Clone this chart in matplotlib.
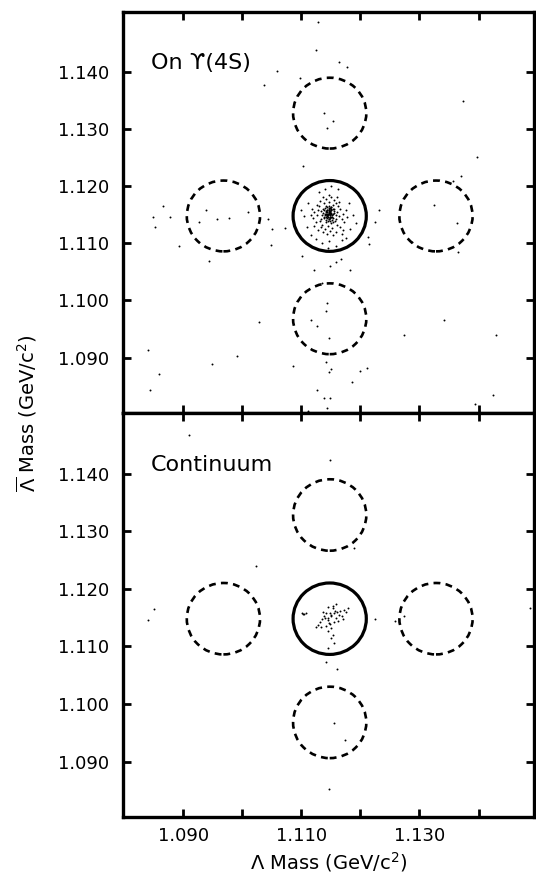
import numpy as np
import matplotlib.pyplot as plt
from matplotlib.patches import Circle

# signal box centre and sideband offsets (GeV/c^2)
m_center = 1.1148
box_radius = 0.0062
sb_offset = 0.018

xticks = [1.090, 1.100, 1.110, 1.120, 1.130, 1.140]
xticklabels = ['1.090', '', '1.110', '', '1.130', '']
yticks = [1.090, 1.100, 1.110, 1.120, 1.130, 1.140]
yticklabels = ['1.090', '1.100', '1.110', '1.120', '1.130', '1.140']

# --- On Upsilon(4S): Lambda mass / anti-Lambda mass per event ---
lam_4s = [
    # core
    1.1145, 1.1148, 1.1142, 1.1150, 1.1139, 1.1153, 1.1146, 1.1141, 1.1149, 1.1155,
    1.1137, 1.1144, 1.1151, 1.1143, 1.1147, 1.1158, 1.1135, 1.1140, 1.1152, 1.1146,
    1.1149, 1.1144, 1.1156, 1.1138, 1.1142, 1.1154, 1.1133, 1.1159, 1.1147, 1.1141,
    1.1150, 1.1143, 1.1136, 1.1160, 1.1152, 1.1145, 1.1139, 1.1148, 1.1157, 1.1134,
    1.1150, 1.1144, 1.1153, 1.1140, 1.1148,
    1.1146, 1.1149, 1.1143, 1.1151, 1.1147, 1.1145, 1.1150, 1.1144, 1.1148, 1.1152,
    1.1142, 1.1146, 1.1149, 1.1154, 1.1141, 1.1147, 1.1150, 1.1145, 1.1143, 1.1148,
    1.1151, 1.1146, 1.1144, 1.1153, 1.1140, 1.1149, 1.1147, 1.1155, 1.1142, 1.1150,
    # middle
    1.1128, 1.1131, 1.1163, 1.1165, 1.1127, 1.1147, 1.1138, 1.1158, 1.1145, 1.1135,
    1.1160, 1.1168, 1.1124, 1.1152, 1.1140, 1.1130, 1.1162, 1.1170, 1.1122, 1.1155,
    1.1142, 1.1133, 1.1148, 1.1166, 1.1126, 1.1172, 1.1120, 1.1137, 1.1158, 1.1164,
    1.1150, 1.1131, 1.1175, 1.1118, 1.1143, 1.1154, 1.1128, 1.1170, 1.1136, 1.1160,
    1.1122, 1.1177, 1.1116, 1.1146, 1.1168,
    # edge of signal box
    1.1140, 1.1162, 1.1112, 1.1180, 1.1105, 1.1188, 1.1110, 1.1183, 1.1125, 1.1147,
    1.1168, 1.1135, 1.1158, 1.1130, 1.1150, 1.1100, 1.1192, 1.1117, 1.1176, 1.1145,
    # background
    1.1129, 1.1125, 1.1164, 1.1177, 1.1058, 1.1097, 1.1037, 1.1373, 1.1139, 1.1153,
    1.1143, 1.1398, 1.1102, 1.1370, 1.1356, 1.0865, 1.0939, 1.1009, 1.1325, 1.1232,
    1.0848, 1.0877, 1.0852, 1.0927, 1.0957, 1.0977, 1.0892, 1.0944, 1.1043, 1.1050,
    1.1073, 1.1049, 1.1225, 1.1213, 1.1215, 1.1101, 1.1167, 1.1159, 1.1148, 1.1121,
    1.1183, 1.1135, 1.1143, 1.1142, 1.1117, 1.1126, 1.1146, 1.1364, 1.1366, 1.1287,
    1.1029, 1.1341, 1.1273, 1.1430, 1.0840, 1.0991, 1.0949, 1.0859, 1.0844, 1.1086,
    1.1142, 1.1150, 1.1146, 1.1199, 1.1212, 1.1186, 1.1126, 1.1139, 1.1148, 1.1143,
    1.1130, 1.1078, 1.1425, 1.1394, 1.1083, 1.1111,
]
alam_4s = [
    1.1152, 1.1149, 1.1155, 1.1158, 1.1147, 1.1145, 1.1160, 1.1141, 1.1139, 1.1153,
    1.1153, 1.1144, 1.1163, 1.1158, 1.1143, 1.1149, 1.1149, 1.1162, 1.1141, 1.1154,
    1.1155, 1.1149, 1.1160, 1.1158, 1.1137, 1.1137, 1.1143, 1.1142, 1.1166, 1.1166,
    1.1151, 1.1151, 1.1160, 1.1155, 1.1147, 1.1139, 1.1144, 1.1162, 1.1139, 1.1156,
    1.1135, 1.1164, 1.1168, 1.1150, 1.1146,
    1.1151, 1.1156, 1.1148, 1.1153, 1.1158, 1.1146, 1.1160, 1.1155, 1.1152, 1.1149,
    1.1152, 1.1157, 1.1144, 1.1151, 1.1156, 1.1162, 1.1147, 1.1150, 1.1159, 1.1154,
    1.1158, 1.1143, 1.1149, 1.1161, 1.1152, 1.1147, 1.1155, 1.1157, 1.1146, 1.1164,
    1.1158, 1.1140, 1.1148, 1.1160, 1.1149, 1.1172, 1.1170, 1.1170, 1.1130, 1.1132,
    1.1133, 1.1142, 1.1138, 1.1127, 1.1126, 1.1165, 1.1165, 1.1152, 1.1155, 1.1176,
    1.1177, 1.1128, 1.1122, 1.1128, 1.1167, 1.1137, 1.1145, 1.1120, 1.1120, 1.1173,
    1.1181, 1.1175, 1.1158, 1.1160, 1.1117, 1.1114, 1.1123, 1.1124, 1.1182, 1.1182,
    1.1130, 1.1147, 1.1150, 1.1185, 1.1117,
    1.1195, 1.1196, 1.1170, 1.1170, 1.1148, 1.1150, 1.1128, 1.1125, 1.1108, 1.1104,
    1.1106, 1.1100, 1.1096, 1.1190, 1.1200, 1.1158, 1.1135, 1.1115, 1.1110, 1.1092,
    1.1488, 1.1438, 1.1418, 1.1409, 1.1401, 1.1389, 1.1377, 1.1350, 1.1329, 1.1315,
    1.1302, 1.1251, 1.1235, 1.1218, 1.1209, 1.1166, 1.1159, 1.1155, 1.1168, 1.1159,
    1.1146, 1.1146, 1.1129, 1.1137, 1.1143, 1.1145, 1.1096, 1.1069, 1.1143, 1.1125,
    1.1127, 1.1098, 1.1137, 1.1112, 1.1099, 1.1078, 1.1072, 1.1067, 1.1060, 1.1054,
    1.1053, 1.1031, 1.0995, 1.0981, 1.0965, 1.0956, 1.0934, 1.1136, 1.1085, 1.1102,
    1.0963, 1.0966, 1.0939, 1.0939, 1.0914, 1.0902, 1.0889, 1.0872, 1.0843, 1.0885,
    1.0892, 1.0880, 1.0875, 1.0877, 1.0881, 1.0857, 1.0843, 1.0829, 1.0829, 1.0812,
    1.0800, 1.0801, 1.0835, 1.0818, 1.0801, 1.0806,
]

# --- Continuum ---
lam_cont = [
    1.1159, 1.1145, 1.1153, 1.1179, 1.1137, 1.1142, 1.1148, 1.1156, 1.1161, 1.1165,
    1.1173, 1.1176, 1.1101, 1.1108, 1.1139, 1.1145, 1.1151, 1.1159, 1.1168, 1.1135,
    1.1145, 1.1155, 1.1162, 1.1128, 1.1134, 1.1142, 1.1148, 1.1151, 1.1125, 1.1145,
    1.1153, 1.1150, 1.1156, 1.1145, 1.1150, 1.1157, 1.1140, 1.1163, 1.1147, 1.1132,
    1.1170, 1.1153,
    # background
    1.0910, 1.1148, 1.1023, 1.1190, 1.0850, 1.0840, 1.1102, 1.1105, 1.1224, 1.1259,
    1.1274, 1.1142, 1.1160, 1.1155, 1.1174, 1.1147, 1.1488,
]
alam_cont = [
    1.1173, 1.1169, 1.1166, 1.1166, 1.1159, 1.1158, 1.1158, 1.1158, 1.1159, 1.1161,
    1.1163, 1.1159, 1.1158, 1.1158, 1.1152, 1.1150, 1.1152, 1.1150, 1.1152, 1.1148,
    1.1146, 1.1143, 1.1144, 1.1137, 1.1134, 1.1136, 1.1138, 1.1132, 1.1133, 1.1126,
    1.1120, 1.1114, 1.1105, 1.1097, 1.1155, 1.1162, 1.1149, 1.1155, 1.1141, 1.1143,
    1.1147, 1.1170,
    1.1466, 1.1423, 1.1240, 1.1271, 1.1165, 1.1145, 1.1156, 1.1156, 1.1147, 1.1144,
    1.1153, 1.1072, 1.1061, 1.0967, 1.0937, 1.0853, 1.1166,
]

fig = plt.figure(figsize=(5.36, 8.73), dpi=100)
ax_top = fig.add_axes([0.2295, 0.5269, 0.7668, 0.4593])
ax_bot = fig.add_axes([0.2295, 0.0636, 0.7668, 0.4633])


def draw_panel(ax, xs, ys, title):
    ax.plot(xs, ys, 'o', color='black', ms=1.4, mew=0)
    ax.add_patch(Circle((m_center, m_center), box_radius, fill=False,
                        lw=2.3, ec='black'))
    for dx, dy in [(-sb_offset, 0), (sb_offset, 0), (0, sb_offset), (0, -sb_offset)]:
        ax.add_patch(Circle((m_center + dx, m_center + dy), box_radius, fill=False,
                            lw=1.9, ec='black', ls=(0, (2.6, 2.0))))
    ax.set_xlim(1.0798, 1.1494)
    ax.set_ylim(1.0803, 1.1505)
    ax.set_xticks(xticks)
    ax.set_yticks(yticks)
    ax.set_yticklabels(yticklabels, fontsize=13)
    ax.tick_params(direction='in', length=6, width=2, top=True, right=True)
    ax.tick_params(axis='y', pad=10)
    ax.tick_params(axis='x', pad=7)
    for s in ax.spines.values():
        s.set_linewidth(2.4)
    ax.text(0.068, 0.872, title, transform=ax.transAxes, fontsize=16,
            ha='left', va='center')


draw_panel(ax_top, lam_4s, alam_4s, 'On \u03d2(4S)')
draw_panel(ax_bot, lam_cont, alam_cont, 'Continuum')

ax_top.set_xticklabels([])
ax_bot.set_xticklabels(xticklabels, fontsize=13)

fig.text(0.5 * (0.2295 + 0.9963), 0.0126, r'$\Lambda$ Mass (GeV/c$^2$)',
         fontsize=14, ha='center', va='center')
fig.text(0.050, 0.527, r'$\overline{\Lambda}$ Mass (GeV/c$^2$)',
         fontsize=14, ha='center', va='center', rotation=90)

fig.savefig('out.png', dpi=100)
